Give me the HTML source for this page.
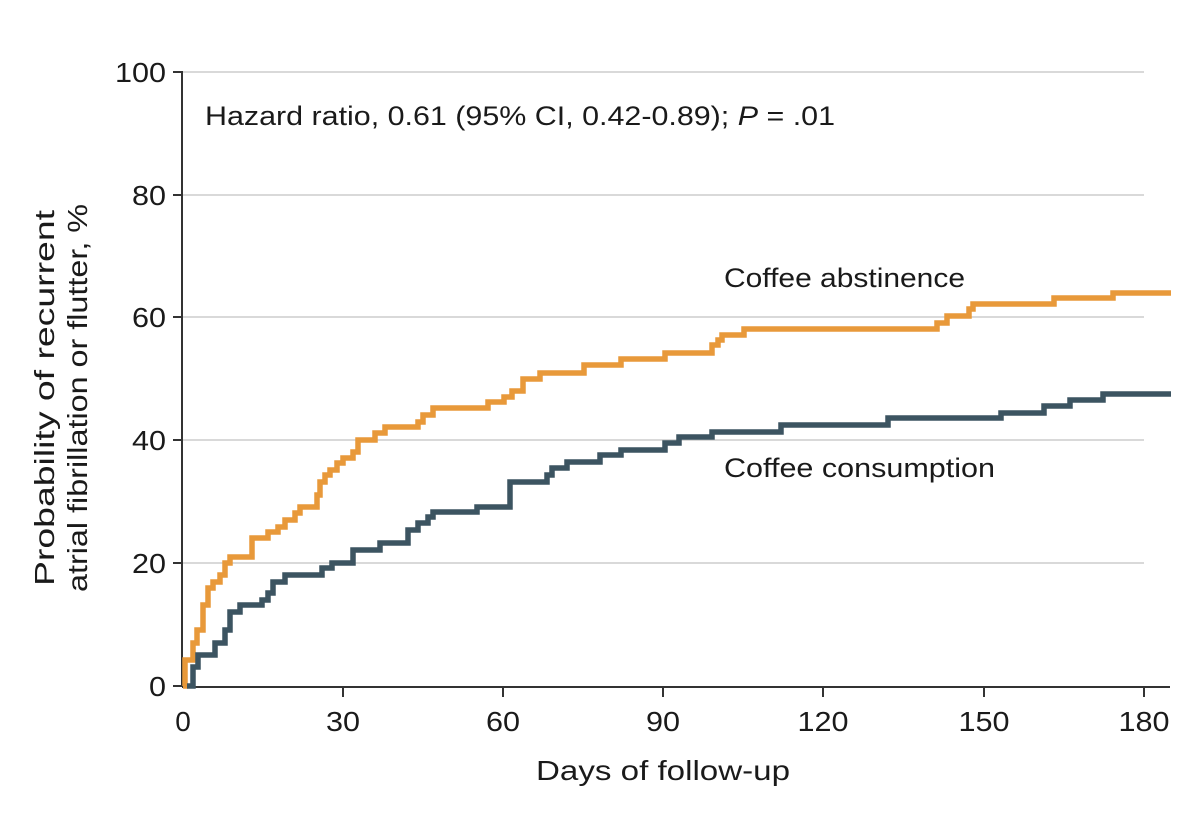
<!DOCTYPE html>
<html><head><meta charset="utf-8"><style>
html,body{margin:0;padding:0;background:#fff;}
svg{display:block;}
text{font-family:"Liberation Sans",sans-serif;fill:#1a1a1a;}
</style></head><body>
<svg width="1200" height="819" viewBox="0 0 1200 819" xmlns="http://www.w3.org/2000/svg">
<g stroke="#d9d9d9" stroke-width="2">
<line x1="183" y1="72" x2="1144" y2="72"/>
<line x1="183" y1="195" x2="1144" y2="195"/>
<line x1="183" y1="317" x2="1144" y2="317"/>
<line x1="183" y1="440" x2="1144" y2="440"/>
<line x1="183" y1="563" x2="1144" y2="563"/>
</g>
<g stroke="#333" stroke-width="2" fill="none">
<line x1="182" y1="71" x2="182" y2="687"/>
<line x1="182" y1="687" x2="1170" y2="687"/>
<line x1="173" y1="72" x2="182" y2="72"/>
<line x1="173" y1="195" x2="182" y2="195"/>
<line x1="173" y1="317" x2="182" y2="317"/>
<line x1="173" y1="440" x2="182" y2="440"/>
<line x1="173" y1="563" x2="182" y2="563"/>
<line x1="173" y1="686" x2="182" y2="686"/>
<line x1="343" y1="687" x2="343" y2="697"/>
<line x1="503" y1="687" x2="503" y2="697"/>
<line x1="663" y1="687" x2="663" y2="697"/>
<line x1="823" y1="687" x2="823" y2="697"/>
<line x1="984" y1="687" x2="984" y2="697"/>
<line x1="1144" y1="687" x2="1144" y2="697"/>
</g>
<g font-size="28" text-anchor="end">
<text x="166" y="82" textLength="51" lengthAdjust="spacingAndGlyphs">100</text>
<text x="166" y="205" textLength="34" lengthAdjust="spacingAndGlyphs">80</text>
<text x="166" y="327" textLength="34" lengthAdjust="spacingAndGlyphs">60</text>
<text x="166" y="450" textLength="34" lengthAdjust="spacingAndGlyphs">40</text>
<text x="166" y="573" textLength="34" lengthAdjust="spacingAndGlyphs">20</text>
<text x="166" y="696" textLength="17" lengthAdjust="spacingAndGlyphs">0</text>
</g>
<g font-size="28" text-anchor="middle">
<text x="183" y="731">0</text>
<text x="343" y="731" textLength="34" lengthAdjust="spacingAndGlyphs">30</text>
<text x="503" y="731" textLength="34" lengthAdjust="spacingAndGlyphs">60</text>
<text x="663" y="731" textLength="34" lengthAdjust="spacingAndGlyphs">90</text>
<text x="823" y="731" textLength="51" lengthAdjust="spacingAndGlyphs">120</text>
<text x="984" y="731" textLength="51" lengthAdjust="spacingAndGlyphs">150</text>
<text x="1144" y="731" textLength="51" lengthAdjust="spacingAndGlyphs">180</text>
<text x="663" y="780" textLength="254" lengthAdjust="spacingAndGlyphs">Days of follow-up</text>
</g>
<g font-size="28" text-anchor="middle">
<text transform="translate(54,398) rotate(-90)" textLength="376" lengthAdjust="spacingAndGlyphs">Probability of recurrent</text>
<text transform="translate(87,398) rotate(-90)" textLength="388" lengthAdjust="spacingAndGlyphs">atrial fibrillation or flutter, %</text>
</g>
<text x="205" y="125" font-size="27" textLength="630" lengthAdjust="spacingAndGlyphs">Hazard ratio, 0.61 (95% CI, 0.42-0.89); <tspan font-style="italic">P</tspan> = .01</text>
<text x="724" y="287" font-size="27" textLength="241" lengthAdjust="spacingAndGlyphs">Coffee abstinence</text>
<text x="724" y="477" font-size="27" textLength="271" lengthAdjust="spacingAndGlyphs">Coffee consumption</text>
<path fill="none" stroke="#e8993a" stroke-width="5.5" d="M183,686 H185 V660 H193 V643 H197 V630 H203 V605 H208 V588 H213 V582 H220 V575 H225 V563 H230 V557 H252 V538 H268 V532 H278 V527 H285 V520 H295 V513 H300 V507 H317 V495 H320 V482 H325 V475 H330 V470 H337 V463 H343 V458 H353 V452 H358 V440 H375 V433 H385 V427 H418 V422 H423 V415 H433 V408 H488 V402 H504 V397 H512 V391 H523 V379 H540 V373 H584 V365 H621 V359 H665 V353 H712 V345 H718 V340 H722 V335 H744 V329 H937 V323 H947 V316 H969 V309 H973 V304 H1054 V298 H1113 V293 H1171"/>
<path fill="none" stroke="#3c5461" stroke-width="5.5" d="M187,686 H193 V667 H198 V655 H215 V643 H225 V630 H230 V612 H240 V605 H262 V600 H268 V593 H273 V582 H285 V575 H322 V568 H332 V563 H353 V550 H380 V543 H408 V530 H418 V523 H428 V517 H433 V512 H477 V507 H510 V482 H547 V475 H552 V468 H567 V462 H600 V455 H621 V450 H665 V443 H679 V437 H712 V432 H781 V425 H888 V418 H1001 V413 H1044 V406 H1070 V400 H1103 V394 H1171"/>
</svg>
</body></html>
